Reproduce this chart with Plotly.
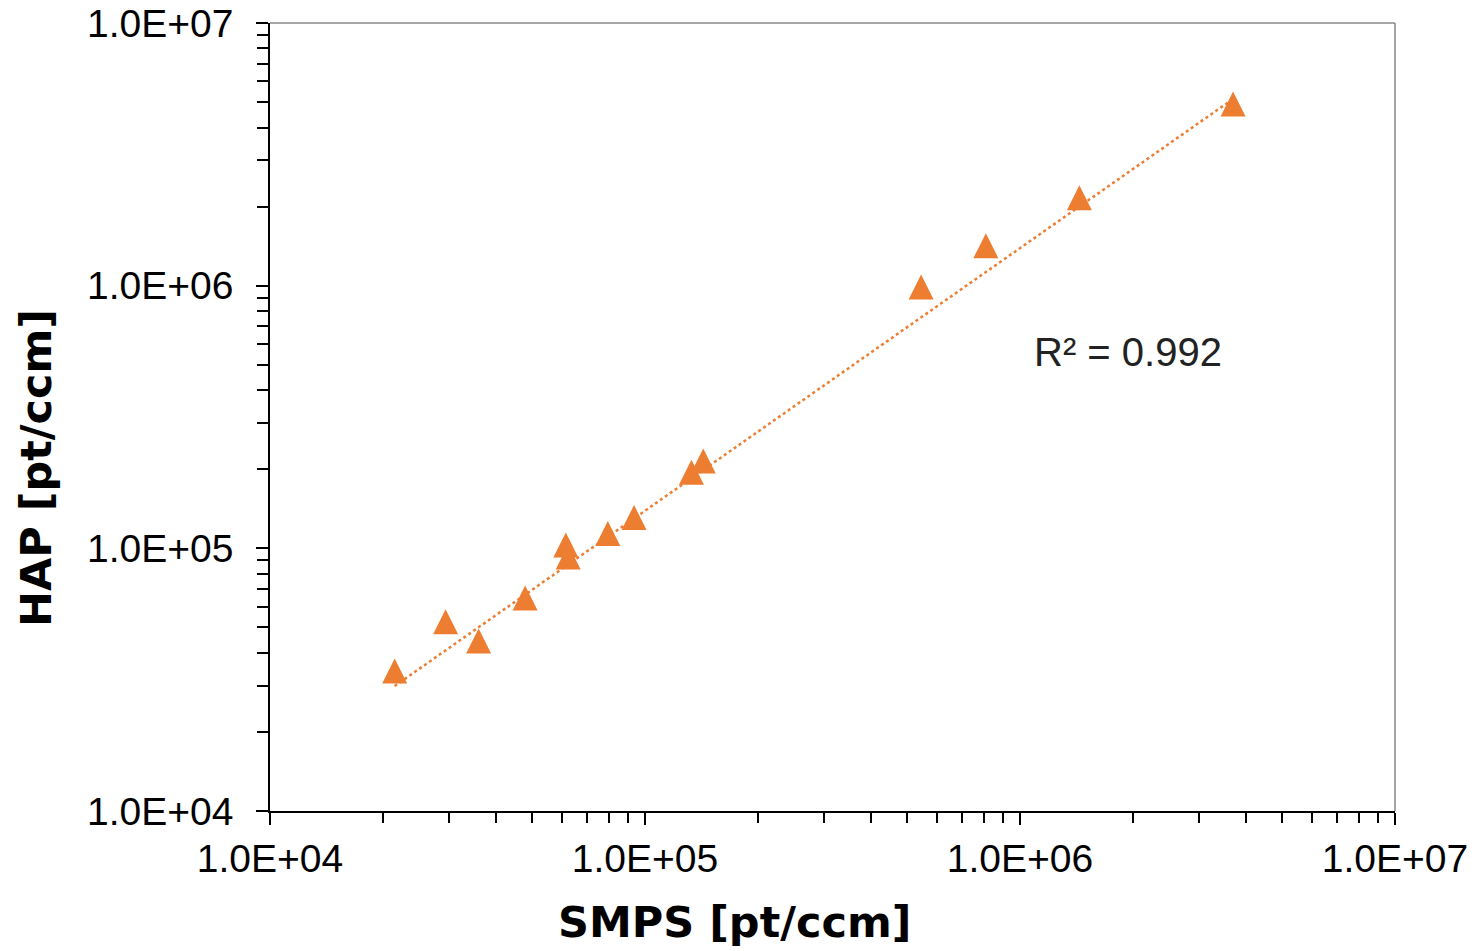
import numpy as np
import plotly.graph_objects as go

# Data (SMPS vs HAP, pt/ccm)
smps = [21500, 29400, 36000, 47900, 61500, 62400, 79600, 93500,
        133000, 143000, 545000, 811000, 1440000, 3700000]
hap = [34100, 52500, 44400, 64700, 103000, 92700, 114000, 131000,
       195000, 215000, 989000, 1420000, 2160000, 4920000]

# power-law trendline as drawn in the chart (end points)
trend_x = [21500, 3700000]
trend_y = [29900, 5140000]

tick_vals = [1e4, 1e5, 1e6, 1e7]
tick_text = ["1.0E+04", "1.0E+05", "1.0E+06", "1.0E+07"]
r2_label = "R² = 0.992"

x_title = "SMPS [pt/ccm]"
y_title = "HAP [pt/ccm]"

ORANGE = "#ED7D31"

minor_vals = [k * 10 ** e for e in range(4, 7) for k in range(2, 10)]

fig = go.Figure()
fig.add_trace(go.Scatter(
    x=trend_x, y=trend_y, mode="lines",
    line=dict(color=ORANGE, width=2.5, dash="dot"),
    showlegend=False, hoverinfo="skip"))
# isosceles triangle centred on the point: arrow-down rotated 180 deg, shifted by half its height
fig.add_trace(go.Scatter(
    x=smps, y=hap, mode="markers",
    marker=dict(symbol="arrow-down", angle=180, size=25, standoff=12.5,
                color=ORANGE, line=dict(width=0)),
    showlegend=False))

tick_font = dict(family="Liberation Sans, Arial, sans-serif", size=39, color="black")
title_font = dict(family="Comic Sans MS, DejaVu Sans, sans-serif", size=43, color="black")

fig.update_xaxes(
    type="log", range=[4, 7], automargin=False,
    tickmode="array", tickvals=tick_vals, ticktext=tick_text,
    ticks="outside", ticklen=12, tickwidth=1.5, tickcolor="black",
    minor=dict(tickvals=minor_vals, ticks="outside", ticklen=10,
               tickwidth=1.5, tickcolor="black", showgrid=False),
    showline=True, linecolor="black", linewidth=1.5,
    showgrid=False, zeroline=False,
    tickfont=tick_font,
    ticklabelstandoff=0,
)
fig.update_yaxes(
    type="log", range=[4, 7], automargin=False,
    tickmode="array", tickvals=tick_vals, ticktext=tick_text,
    ticks="outside", ticklen=12, tickwidth=1.5, tickcolor="black",
    minor=dict(tickvals=minor_vals, ticks="outside", ticklen=11,
               tickwidth=1.5, tickcolor="black", showgrid=False),
    showline=True, linecolor="black", linewidth=1.5,
    showgrid=False, zeroline=False,
    tickfont=tick_font,
    ticklabelstandoff=15,
)

# gray top/right frame
fig.add_shape(type="line", xref="paper", yref="paper", x0=0, x1=1, y0=1, y1=1,
              line=dict(color="#888888", width=1.5))
fig.add_shape(type="line", xref="paper", yref="paper", x0=1, x1=1, y0=0, y1=1,
              line=dict(color="#888888", width=1.5))

# axis titles (placed as in the reference, off-centre)
fig.add_annotation(
    x=0.4133, y=-0.1409, xref="paper", yref="paper",
    xanchor="center", yanchor="middle",
    text="<b>" + x_title + "</b>", showarrow=False, font=title_font)
fig.add_annotation(
    x=-0.208, y=0.4353, xref="paper", yref="paper",
    xanchor="center", yanchor="middle", textangle=-90,
    text="<b>" + y_title + "</b>", showarrow=False, font=title_font)

fig.add_annotation(
    x=np.log10(1.94e6), y=np.log10(5.59e5), xref="x", yref="y",
    xanchor="center", yanchor="middle",
    text=r2_label, showarrow=False,
    font=dict(family="Liberation Sans, Arial, sans-serif", size=40, color="#222222"))

fig.update_layout(
    width=1479, height=951,
    margin=dict(l=270, r=84, t=23, b=140),
    plot_bgcolor="white", paper_bgcolor="white",
)

fig.write_html("out.html")
